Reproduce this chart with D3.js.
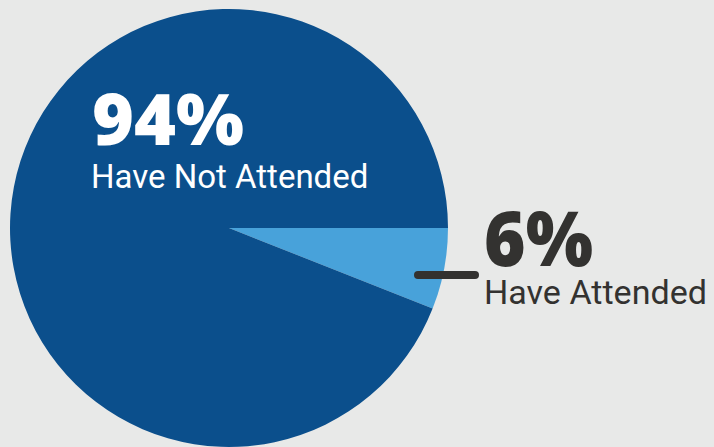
<!DOCTYPE html>
<html>
<head>
<meta charset="utf-8">
<script src="https://cdn.jsdelivr.net/npm/d3@7"></script>
<style>
  html, body { margin: 0; padding: 0; background: #e8e9e8; }
  svg { display: block; }
</style>
</head>
<body>
<svg id="chart" width="714" height="447"></svg>
<script>
// Attendance share
const categories = ["Have Attended", "Have Not Attended"];
const shares = [6, 94];
const pctLabels = ["6%", "94%"];
const colors = ["#48a2da", "#0b4f8c"];

const W = 714, H = 447;
const cx = 229, cy = 228, radius = 219;

const svg = d3.select("#chart");
svg.append("rect").attr("width", W).attr("height", H).attr("fill", "#e8e9e8");

const pie = d3.pie()
  .sort(null)
  .value(d => d)
  .startAngle(Math.PI / 2)
  .endAngle(Math.PI / 2 + 2 * Math.PI);

const arc = d3.arc().innerRadius(0).outerRadius(radius);

const g = svg.append("g").attr("transform", `translate(${cx},${cy})`);
g.selectAll("path")
  .data(pie(shares))
  .join("path")
  .attr("d", arc)
  .attr("fill", (d, i) => colors[i]);

// Label for the large slice, inside the pie
const big = svg.append("g").attr("fill", "#ffffff");
big.append("text")
  .attr("x", 92).attr("y", 145)
  .attr("font-family", "'Open Sans', sans-serif")
  .attr("font-weight", 800)
  .attr("font-size", 70)
  .attr("textLength", 152)
  .attr("lengthAdjust", "spacingAndGlyphs")
  .text(pctLabels[1]);
big.append("text")
  .attr("x", 91).attr("y", 188)
  .attr("font-family", "Roboto, sans-serif")
  .attr("font-size", 33)
  .text(categories[1]);

// Callout for the small slice
svg.append("line")
  .attr("x1", 418).attr("x2", 475)
  .attr("y1", 275).attr("y2", 275)
  .attr("stroke", "#333230")
  .attr("stroke-width", 8)
  .attr("stroke-linecap", "round");

const small = svg.append("g").attr("fill", "#333230");
small.append("text")
  .attr("x", 484).attr("y", 266)
  .attr("font-family", "'Open Sans', sans-serif")
  .attr("font-weight", 800)
  .attr("font-size", 76)
  .attr("textLength", 109)
  .attr("lengthAdjust", "spacingAndGlyphs")
  .text(pctLabels[0]);
small.append("text")
  .attr("x", 484).attr("y", 304)
  .attr("font-family", "Roboto, sans-serif")
  .attr("font-size", 34)
  .attr("textLength", 223)
  .attr("lengthAdjust", "spacingAndGlyphs")
  .text(categories[0]);
</script>
</body>
</html>
